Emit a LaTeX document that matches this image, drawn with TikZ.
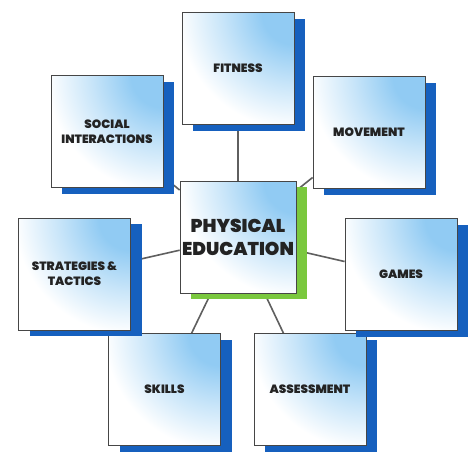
\documentclass[tikz,border=0pt]{standalone}
\usepackage{fontspec}
\newfontfamily\pefont{Poppins}[UprightFont={* Black}, BoldFont={* Black}]
\usetikzlibrary{shadows,backgrounds}
\definecolor{glowblue}{RGB}{145,203,243}
\definecolor{shadowblue}{RGB}{22,96,190}
\definecolor{shadowgreen}{RGB}{122,200,62}
\definecolor{edgegray}{RGB}{70,70,70}
\definecolor{linkgray}{RGB}{95,95,95}
\definecolor{textdark}{RGB}{35,35,35}
\colorlet{glowmid}{glowblue!50!white}
\pgfdeclareradialshading{boxglow}{\pgfpoint{0bp}{0bp}}{color(0bp)=(glowblue); color(4bp)=(glowblue); color(9bp)=(glowmid); color(14.5bp)=(white); color(50bp)=(white)}
\begin{document}
\begin{tikzpicture}[x=1pt,y=-1pt,
  basebox/.style={draw=edgegray, line width=0.8pt, fill=white,
    minimum width=112pt, minimum height=112pt, inner sep=2pt, align=center,
    text=textdark,
    path picture={\shade[shading=boxglow] (path picture bounding box.north east) circle (200pt);}},
  topicbox/.style={basebox,
    font=\pefont\fontsize{12}{15}\selectfont,
    general shadow={fill=shadowblue, shadow xshift=11pt, shadow yshift=-6pt}},
  hubbox/.style={basebox,
    font=\pefont\fontsize{18.5}{23}\selectfont,
    general shadow={fill=shadowgreen, shadow xshift=11pt, shadow yshift=-6pt}},
  link/.style={draw=linkgray, line width=1.6pt}]
\useasboundingbox (0,0) rectangle (474,474);
\node[topicbox] (fit) at (238,68.5) {FITNESS};
\node[topicbox] (soc) at (107,131.5) {SOCIAL\\INTERACTIONS};
\node[topicbox] (mov) at (369,132.5) {MOVEMENT};
\node[topicbox] (ski) at (164.5,389.5) {SKILLS};
\node[topicbox] (ass) at (310,389.5) {ASSESSMENT};
\node[hubbox] (pe) at (238,237) {PHYSICAL\\EDUCATION};
\node[topicbox] (str) at (74.5,274) {STRATEGIES \&\\TACTICS};
\node[topicbox] (gam) at (401,274.5) {GAMES};
\begin{scope}[on background layer]
  \fill[white] (0,0) rectangle (474,474);
  \draw[link] (pe) -- (fit);
  \draw[link] (pe) -- (soc);
  \draw[link] (pe) -- (mov);
  \draw[link] (pe) -- (str);
  \draw[link] (pe) -- (gam);
  \draw[link] (pe) -- (ski);
  \draw[link] (pe) -- (ass);
\end{scope}
\end{tikzpicture}
\end{document}
